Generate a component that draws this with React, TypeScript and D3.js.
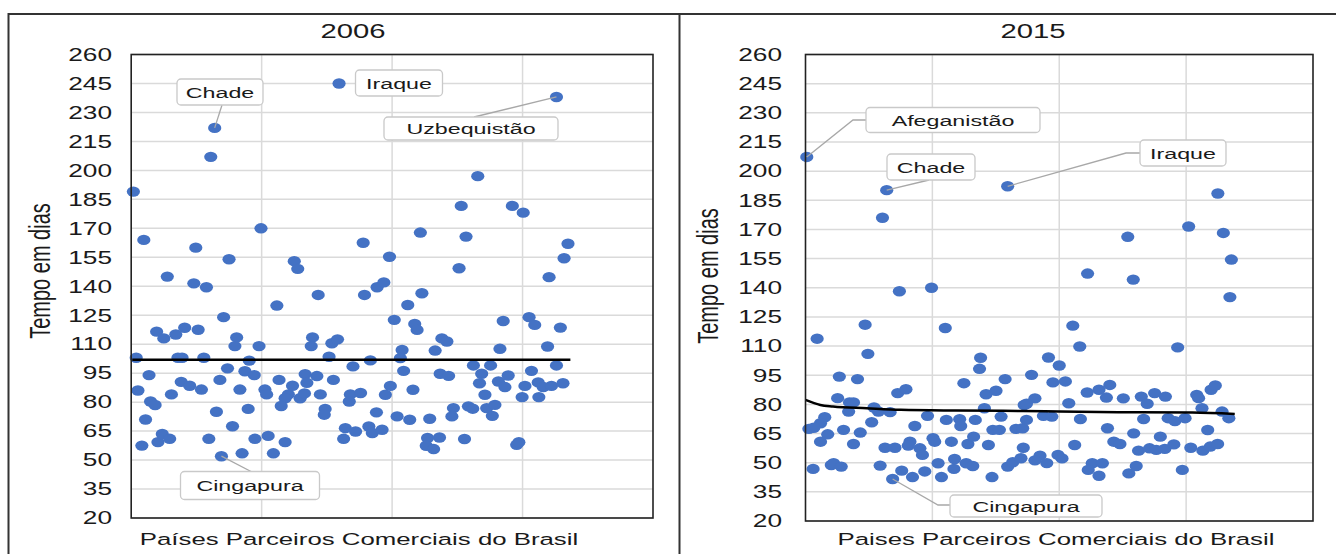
import React from 'react';
import * as d3 from 'd3';

// [country position on the x axis, days]
const pts2006: [number, number][] = [
  [1, 189], [36.6, 207], [38.4, 222], [95.6, 245], [159.4, 197], [195.6, 238],
  [5.8, 164], [29.7, 160], [59.7, 170], [45, 154], [16.6, 145], [28.8, 141.5], [34.6, 139.5],
  [75, 153], [76.6, 149], [86, 135.5], [67, 130], [42.5, 124], [11.7, 116.5], [15, 113],
  [20.5, 115], [24.6, 118.5], [30.8, 117.5], [48.5, 113.5], [47.7, 109], [58.8, 109],
  [83.4, 113.5], [82.8, 109], [92.3, 110.5], [94.9, 112.5], [2.3, 103], [21.5, 103],
  [23.4, 103], [33.4, 103], [54.3, 101.5], [91, 103.5], [102, 98.5], [8.2, 94], [3.1, 86],
  [18.5, 84], [23, 90.5], [26.9, 88.5], [32.3, 86.5], [44.3, 97.5], [40.8, 91.5], [50, 86.5],
  [52.3, 96], [56.6, 94], [61.5, 86.5], [62.3, 84], [68, 91.5], [74.2, 88.5], [80, 94.5],
  [80.8, 90], [85.4, 93.5], [93, 91.5], [87, 84], [72.3, 84], [70.8, 82], [77.7, 82],
  [79.7, 84.5], [69, 78], [89.2, 76.5], [88.8, 73.5], [100.8, 84], [100.3, 80.3], [8.9, 80.3],
  [11, 78.5], [6.6, 71], [39.2, 75], [53.8, 76.5], [46.6, 67.5], [4.9, 57.5], [12.3, 59.3],
  [14.3, 63.5], [17.7, 61], [35.7, 61], [56.9, 61], [63, 62.5], [70.8, 59.3], [98.5, 66.5],
  [97.7, 61], [41.5, 52], [51, 53.5], [65.4, 53.5], [103.2, 64.8],
  [151.8, 181.6], [175.3, 181.6], [180.3, 178.1], [133, 167.8], [154, 165.7],
  [106.7, 162.5], [200.9, 162], [199.1, 154.5], [118.8, 155.3], [150.8, 149.3], [192.2, 144.7],
  [107.3, 135.5], [113.1, 139.5], [116.2, 142], [133.7, 136.4], [127.2, 130.3], [121, 122.6],
  [130.4, 120.5], [131.5, 117.4], [171.1, 122], [183, 124], [185.6, 120], [197.4, 118.6],
  [142.9, 113], [145.2, 111.4], [124.6, 107], [139.8, 106.7], [169.6, 107.6], [191.5, 108.8],
  [110, 101.6], [123.8, 102.8], [125.3, 96.2], [157.4, 99], [165.3, 99], [195.6, 99],
  [142.1, 94.7], [146, 93.6], [161.2, 94.7], [160.2, 89.8], [168.9, 90.7], [173.4, 93.8],
  [171.9, 87.8], [184.1, 96.2], [181.1, 88.4], [187.2, 90.2], [189.5, 87.8], [193.3, 88.4],
  [198.6, 89.8], [119.2, 88.4], [105.5, 84.7], [116.9, 83.8], [129.6, 86.4], [162.7, 83.8],
  [179.8, 82.6], [187.5, 82.6], [112.8, 74.7], [122.3, 72.6], [128.1, 70.9], [137.3, 71.4],
  [148.2, 76.9], [147.5, 72.6], [155.1, 77.8], [157.1, 76.6], [163.5, 76.9], [167.3, 78.6],
  [166.1, 72.9], [109.3, 67.4], [110.9, 64], [115.4, 65.7], [136.3, 61.4], [141.8, 61.7],
  [135.7, 57.4], [139.1, 55.7], [153.3, 60.9], [177.3, 57.9], [178.3, 59.2],
];

const pts2015: [number, number][] = [
  [0.6, 207.3], [38.4, 190.2], [36.4, 176], [95.6, 192.2], [195, 188.5], [152.4, 166.2],
  [181.2, 171.5], [197.6, 168.2], [201.4, 154.5], [133.4, 147.3], [155, 144.2],
  [44.4, 138.2], [59.6, 140], [28.2, 121], [66.1, 119.3], [5.5, 113.8], [29.5, 106],
  [82.8, 104], [82.3, 98.3], [16, 94.3], [24.6, 93], [43.6, 85.8], [47.5, 87.8], [74.9, 90.9],
  [94.4, 93], [85.4, 85.2], [90.1, 87], [15.2, 83.2], [20.8, 81], [22.7, 81], [20.4, 76.3],
  [32.4, 78.4], [34.5, 76.3], [40, 76], [84.6, 78], [103.4, 79.7], [9.1, 73.4], [7.1, 70.3],
  [1.6, 67.4], [3.9, 68], [10.5, 64.6], [18, 66.9], [25.9, 65.5], [31.3, 70.8], [51.7, 68.9],
  [57.7, 74.1], [66.6, 72], [72.9, 72.4], [73.4, 68.9], [80.3, 72], [92.5, 73.7], [88.6, 66.9],
  [91.7, 66.9], [99.5, 67.4], [102.7, 67.7], [7.1, 60.8], [22.7, 59.6], [37.6, 57.7],
  [42.3, 57.7], [49.4, 60.8], [48.6, 58.8], [54.1, 57.4], [55.3, 54], [60.3, 62.6], [61.1, 60.8],
  [69, 60.8], [76.8, 59.6], [79.5, 63.4], [86.5, 59.1], [103, 57.7], [3.6, 46.8], [12.2, 48.8],
  [13.3, 49.7], [16.9, 48], [35.3, 48.5], [45.5, 45.9], [62.7, 49.7], [70.5, 51.9], [76, 49.7],
  [79.1, 48.3], [70.2, 46.8], [56.4, 45.5], [50.6, 42.6], [41.2, 41.6], [64.3, 42.6],
  [88.2, 42.6], [95.6, 48], [98, 50.2], [101.9, 52.3],
  [200.7, 135.2], [126.4, 120.5], [129.7, 109.8], [176, 109.3], [114.9, 104.1], [120, 100],
  [106.9, 95.2], [117, 91.3], [122.9, 91.8], [133.2, 86.1], [138.8, 87.5], [143.9, 90],
  [142.3, 83.5], [150.3, 83.1], [158.8, 84], [161.6, 80.3], [165.1, 85.8], [170.2, 84],
  [185, 84.9], [185.9, 83.2], [191.8, 87.5], [193.8, 89.7], [108.5, 83.1], [104.5, 80.3],
  [124.5, 80.6], [187.5, 78], [197, 76.3], [200.2, 72.9], [112.5, 74.1], [116.5, 73.7],
  [130, 72.5], [104.5, 72], [159.9, 72.5], [171.5, 72.9], [174.7, 71.4], [179.5, 72.9],
  [142.8, 67.7], [155.2, 65.1], [167.8, 63.4], [190.2, 66.8], [145.8, 60.8], [148.7, 59.6],
  [127.3, 59.1], [157.5, 56.2], [162.7, 57.4], [165.9, 56.6], [169.9, 57.1], [174.2, 59.4],
  [182.2, 57.7], [187.9, 56.2], [191.4, 58.3], [194.9, 59.6], [110.9, 53.6], [108.5, 51.2],
  [114.1, 49.8], [119.4, 54], [121.3, 52.2], [135.6, 49.7], [140.4, 49.7], [133.7, 46.3],
  [138.8, 43.3], [152.9, 44.5], [156.4, 48.3], [178.2, 46.3],
];

// mean line 2006 and trend line 2015
const mean2006: [number, number][] = [[0.5, 102], [202, 102]];
const trend2015: [number, number][] = [
  [0, 82.3], [7, 79.7], [13, 78.9], [29, 78], [45, 77.2], [71, 76.8], [103, 76.6],
  [120, 76.3], [148, 76], [183, 75.8], [203, 75.1],
];

const yTicks = d3.range(20, 261, 15);
const xGrid = [60, 120, 180];

// labels: text, the point it names, box centre/size, optional elbow of the leader
const notes2006 = [
  { text: 'Chade', pt: [38.4, 222], box: [220, 92, 86, 26], end: [222, 105] },
  { text: 'Iraque', pt: [95.6, 245], box: [399, 83, 87, 26], end: null },
  { text: 'Uzbequistão', pt: [195.6, 238], box: [471, 128.5, 174, 23], end: [474, 117] },
  { text: 'Cingapura', pt: [41.5, 52], box: [250, 485.5, 139, 28], end: [251, 471.5] },
];
const notes2015 = [
  { text: 'Afeganistão', pt: [0.6, 207.3], box: [953, 120, 174, 25], end: [853, 120], elbow: true },
  { text: 'Chade', pt: [38.4, 190.2], box: [931, 167, 88, 26], end: [929, 180] },
  { text: 'Iraque', pt: [95.6, 192.2], box: [1183, 153, 86, 26], end: [1126, 153], elbow: true },
  { text: 'Cingapura', pt: [41.2, 41.6], box: [1026, 506, 152, 22], end: [938, 505], elbow: true },
];

const FONT = '"Liberation Sans", Arial, sans-serif';
const SX = 1.5; // the picture is stretched sideways
const BLUE = '#4472C4';

function T({ x, y, size, anchor = 'middle', rot = false, children }: any) {
  return (
    <text
      transform={`translate(${x},${y}) scale(${SX},1)${rot ? ' rotate(-90)' : ''}`}
      fontSize={size}
      textAnchor={anchor}
      fontFamily={FONT}
      fill="#1a1a1a"
    >
      {children}
    </text>
  );
}

function Panel({ title, titleX, pts, line, notes, left, right, top, bottom, tickX, ylabX, ylabY, xTitle, xTitleX, curve }: any) {
  const x = d3.scaleLinear().domain([0, 240]).range([left, right]);
  const y = d3.scaleLinear().domain([20, 260]).range([bottom, top]);
  const path = d3.line<[number, number]>()
    .x(d => x(d[0]))
    .y(d => y(d[1]))
    .curve(curve ? d3.curveMonotoneX : d3.curveLinear)(line);

  return (
    <g>
      <T x={titleX} y={38} size={19.5}>{title}</T>
      {yTicks.map(t => (
        <line key={'h' + t} x1={left} x2={right} y1={y(t)} y2={y(t)} stroke="#dadada" strokeWidth={1.5} />
      ))}
      {xGrid.map(t => (
        <line key={'v' + t} x1={x(t)} x2={x(t)} y1={top} y2={bottom} stroke="#dadada" strokeWidth={1.5} />
      ))}
      {yTicks.map(t => (
        <T key={'t' + t} x={tickX} y={y(t) + 6.3} size={17.5} anchor="end">{t}</T>
      ))}
      <T x={ylabX} y={ylabY} size={20} rot>Tempo em dias</T>
      <T x={xTitleX} y={545} size={17.2}>{xTitle}</T>
      {pts.map((d: [number, number], i: number) => (
        <ellipse key={i} cx={x(d[0])} cy={y(d[1])} rx={6.6} ry={5.2} fill={BLUE} />
      ))}
      <path d={path || ''} fill="none" stroke="#000" strokeWidth={2.5} />
      <rect x={left} y={top} width={right - left} height={bottom - top} fill="none" stroke="#222" strokeWidth={1.6} />
      {notes.map((n: any) => {
        const [cx, cy, w, h] = n.box;
        const px = x(n.pt[0]);
        const py = y(n.pt[1]);
        let lead = null;
        if (n.end) {
          const pts = n.elbow
            ? [[px, py], n.end, [cx - w / 2, n.end[1]]]
            : [[px, py], n.end];
          lead = (
            <polyline points={pts.map((p: number[]) => p.join(',')).join(' ')} fill="none" stroke="#a8a8a8" strokeWidth={1.3} />
          );
        }
        return (
          <g key={n.text}>
            {lead}
            <rect x={cx - w / 2} y={cy - h / 2} width={w} height={h} rx={4} fill="#fff" stroke="#c9c9c9" strokeWidth={1.3} />
            <T x={cx} y={cy + 5.5} size={15.5}>{n.text}</T>
          </g>
        );
      })}
    </g>
  );
}

export default function App() {
  return (
    <svg width={1336} height={554} style={{ position: 'absolute', left: 0, top: 0, background: '#fff' }}>
      <Panel
        title="2006" titleX={353} pts={pts2006} line={mean2006} notes={notes2006}
        left={131.2} right={653} top={54.5} bottom={518}
        tickX={112} ylabX={50} ylabY={271}
        xTitle="Países Parceiros Comerciais do Brasil" xTitleX={359}
      />
      <Panel
        title="2015" titleX={1033} pts={pts2015} line={trend2015} notes={notes2015} curve
        left={805.5} right={1313} top={54.5} bottom={521}
        tickX={782} ylabX={718} ylabY={276}
        xTitle="Paises Parceiros Comerciais do Brasil" xTitleX={1056}
      />
      <path d="M8.5,600 V14 H1340" fill="none" stroke="#333" strokeWidth={2} />
      <line x1={679.5} x2={679.5} y1={14} y2={600} stroke="#333" strokeWidth={2} />
    </svg>
  );
}
